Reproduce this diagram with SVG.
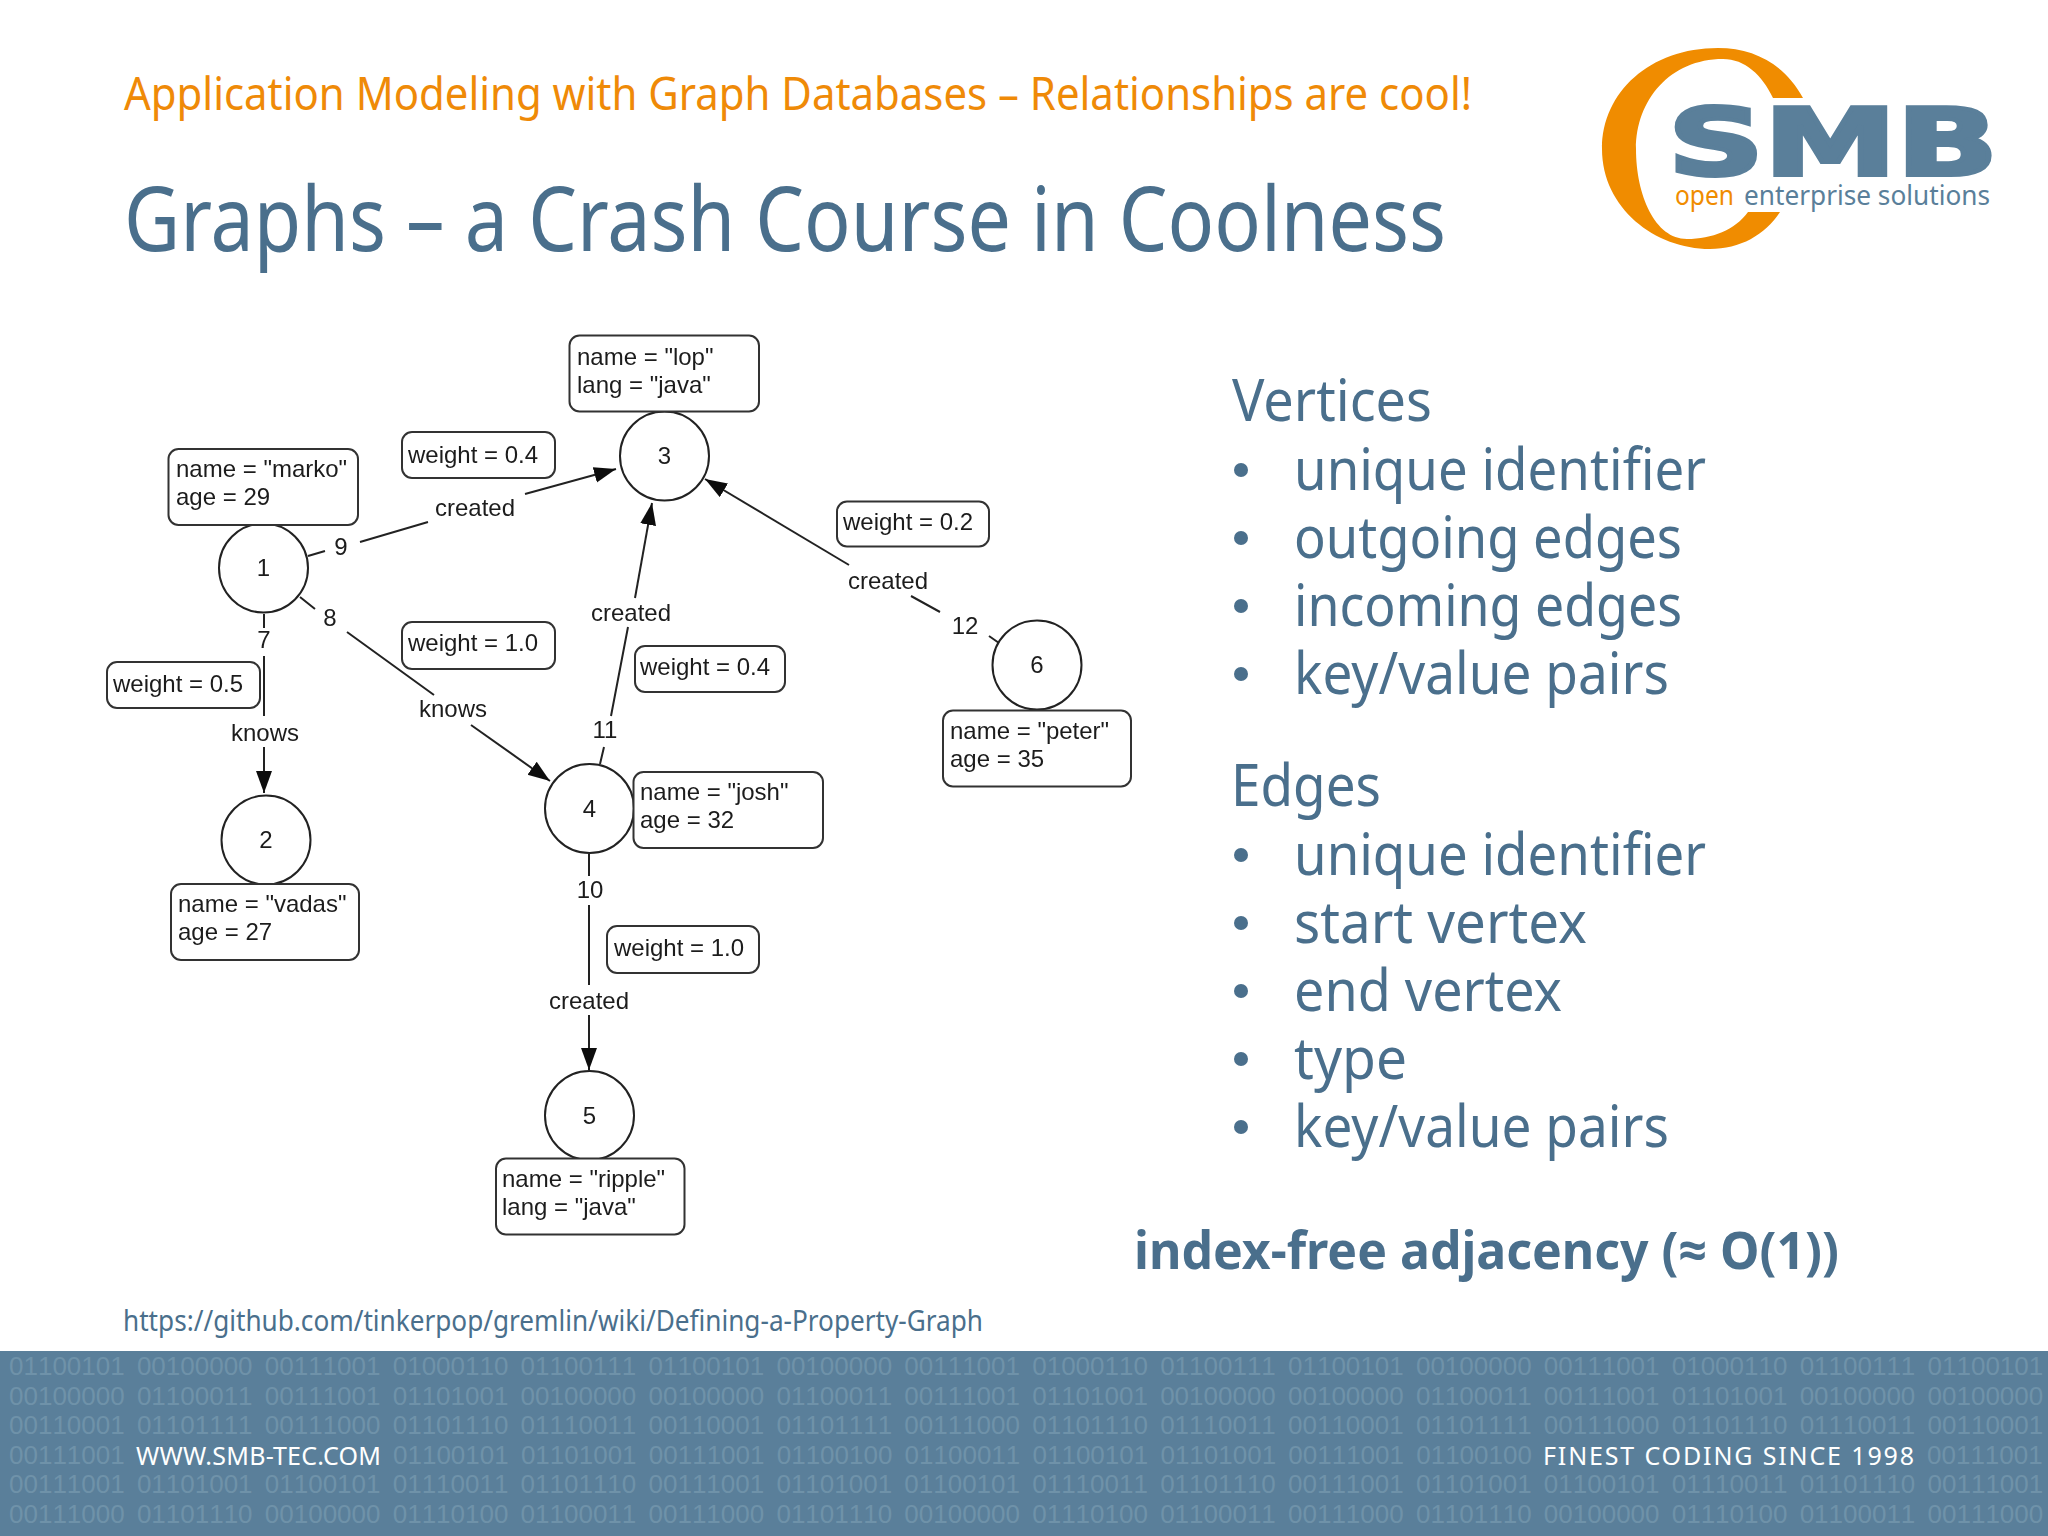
<svg xmlns="http://www.w3.org/2000/svg" width="2048" height="1536" viewBox="0 0 2048 1536">
<style>
.g{font-family:"Liberation Sans",Arial,sans-serif;font-size:24px;fill:#1c1c1c}
.m{text-anchor:middle}
.box{fill:#fff;stroke:#333;stroke-width:2}
.c{fill:#fff;stroke:#222;stroke-width:2}
.e{stroke:#222;stroke-width:2;fill:none}
.h{font-family:"Noto Sans","Open Sans",sans-serif;fill:#4a6f8c}
.li{font-size:58px}
.bu{font-family:"Liberation Sans",sans-serif;font-size:26px;word-spacing:5px;font-kerning:none;fill:#6f92a9}
.ft{font-family:"Noto Sans",sans-serif;font-size:25px;fill:#fff}
</style>
<defs>
<marker id="a" markerUnits="userSpaceOnUse" markerWidth="24" markerHeight="18" refX="22" refY="8" orient="auto"><path d="M0,0L22,8L0,16Z" fill="#111"/></marker>
<filter id="soft" x="0" y="0" width="1" height="1"><feGaussianBlur stdDeviation="0.6"/></filter>
</defs>
<rect width="2048" height="1536" fill="#fff"/>
<g id="header">
<text class="h" x="124" y="110" font-size="46" textLength="1348" lengthAdjust="spacingAndGlyphs" style="fill:#ef8a07">Application Modeling with Graph Databases – Relationships are cool!</text>
<text class="h" x="124" y="251" font-size="90" textLength="1322" lengthAdjust="spacingAndGlyphs">Graphs – a Crash Course in Coolness</text>
</g>
<g id="logo">
<path d="M1803,98C1785,65 1755,48 1718,48C1650,48 1602,92 1602,149C1602,208 1655,249 1710,249C1740,249 1765,235 1780,212L1748,212C1735,230 1712,239 1687,239C1655,239 1636,195 1636,149C1636,100 1670,59 1723,59C1745,59 1762,75 1773,98Z" fill="#f08c00"/>
<text x="1668" y="175" font-family="DejaVu Sans" font-weight="bold" font-size="92" textLength="330" lengthAdjust="spacingAndGlyphs" fill="#5a7f9a" stroke="#5a7f9a" stroke-width="4">SMB</text>
<text x="1675" y="205" font-family="Noto Sans" font-size="28" textLength="59" lengthAdjust="spacingAndGlyphs" fill="#f08c00">open</text>
<text x="1744" y="205" font-family="Noto Sans" font-size="28" textLength="246" lengthAdjust="spacingAndGlyphs" fill="#5a7f9a">enterprise solutions</text>
</g>
<g id="graph" filter="url(#soft)">
<rect x="100" y="320" width="1060" height="950" fill="#fff"/>
<g id="connectors">
<path class="e" d="M308,556L325,551M360,542L428,522"/><path class="e" d="M525,494L616,469" marker-end="url(#a)"/>
<path class="e" d="M300,597L315,609M347,632L434,695"/><path class="e" d="M471,725L550,781" marker-end="url(#a)"/>
<path class="e" d="M264,614L264,628M264,656L264,716"/><path class="e" d="M264,747L264,793" marker-end="url(#a)"/>
<path class="e" d="M600,764L604,747M611,716L628,627"/><path class="e" d="M635,598L652,503" marker-end="url(#a)"/>
<path class="e" d="M589,854L589,876M589,905L589,985"/><path class="e" d="M589,1015L589,1070" marker-end="url(#a)"/>
<path class="e" d="M999,643L989,636M940,612L911,596"/><path class="e" d="M849,565L705,479" marker-end="url(#a)"/>
<text class="g m" x="475" y="516">created</text><text class="g m" x="341" y="555">9</text>
<text class="g m" x="330" y="626">8</text><text class="g m" x="264" y="648">7</text>
<text class="g m" x="265" y="741">knows</text><text class="g m" x="453" y="717">knows</text>
<text class="g m" x="631" y="621">created</text><text class="g m" x="605" y="738">11</text>
<text class="g m" x="888" y="589">created</text><text class="g m" x="965" y="634">12</text>
<text class="g m" x="590" y="898">10</text><text class="g m" x="589" y="1009">created</text>
</g>
<g id="node1"><circle class="c" cx="263.500" cy="568" r="44.500"/><text class="g m" x="263.500" y="576">1</text><rect class="box" x="168.500" y="449" width="189.500" height="76" rx="10"/><text class="g" x="176" y="477">name = "marko"</text><text class="g" x="176" y="505">age = 29</text></g>
<g id="node2"><circle class="c" cx="266" cy="840" r="44.500"/><text class="g m" x="266" y="848">2</text><rect class="box" x="171" y="884" width="188" height="76" rx="10"/><text class="g" x="178" y="912">name = "vadas"</text><text class="g" x="178" y="940">age = 27</text></g>
<g id="node3"><circle class="c" cx="664.500" cy="456" r="44.500"/><text class="g m" x="664.500" y="464">3</text><rect class="box" x="569.500" y="335.500" width="189.500" height="76" rx="10"/><text class="g" x="577" y="365">name = "lop"</text><text class="g" x="577" y="393">lang = "java"</text></g>
<g id="node4"><circle class="c" cx="589.500" cy="808.500" r="44.500"/><text class="g m" x="589.500" y="816.500">4</text><rect class="box" x="633.500" y="772" width="189.500" height="76" rx="10"/><text class="g" x="640" y="800">name = "josh"</text><text class="g" x="640" y="828">age = 32</text></g>
<g id="node5"><circle class="c" cx="589.500" cy="1115.500" r="44.500"/><text class="g m" x="589.500" y="1123.500">5</text><rect class="box" x="496" y="1158.500" width="188.500" height="76" rx="10"/><text class="g" x="502" y="1187">name = "ripple"</text><text class="g" x="502" y="1215">lang = "java"</text></g>
<g id="node6"><circle class="c" cx="1037" cy="665" r="44.500"/><text class="g m" x="1037" y="673">6</text><rect class="box" x="943" y="710.500" width="188" height="76" rx="10"/><text class="g" x="950" y="739">name = "peter"</text><text class="g" x="950" y="767">age = 35</text></g>
<g id="w9"><rect class="box" x="402" y="432" width="153" height="46" rx="10"/><text class="g" x="408" y="463">weight = 0.4</text></g>
<g id="w12"><rect class="box" x="837" y="501.500" width="152" height="45" rx="10"/><text class="g" x="843" y="530">weight = 0.2</text></g>
<g id="w8"><rect class="box" x="402" y="622" width="153" height="47" rx="10"/><text class="g" x="408" y="651">weight = 1.0</text></g>
<g id="w7"><rect class="box" x="107" y="662" width="153" height="46" rx="10"/><text class="g" x="113" y="692">weight = 0.5</text></g>
<g id="w11"><rect class="box" x="635" y="646" width="150" height="46" rx="10"/><text class="g" x="640" y="675">weight = 0.4</text></g>
<g id="w10"><rect class="box" x="607" y="926" width="152" height="47" rx="10"/><text class="g" x="614" y="956">weight = 1.0</text></g>
</g>
<g id="lists">
<text class="h li" x="1232" y="421" textLength="200" lengthAdjust="spacingAndGlyphs">Vertices</text>
<text class="h li" x="1294" y="490" textLength="412" lengthAdjust="spacingAndGlyphs">unique identifier</text>
<text class="h li" x="1294" y="558" textLength="388" lengthAdjust="spacingAndGlyphs">outgoing edges</text>
<text class="h li" x="1294" y="626" textLength="388" lengthAdjust="spacingAndGlyphs">incoming edges</text>
<text class="h li" x="1294" y="694" textLength="375" lengthAdjust="spacingAndGlyphs">key/value pairs</text>
<text class="h li" x="1231" y="806" textLength="150" lengthAdjust="spacingAndGlyphs">Edges</text>
<text class="h li" x="1294" y="875" textLength="412" lengthAdjust="spacingAndGlyphs">unique identifier</text>
<text class="h li" x="1294" y="943" textLength="293" lengthAdjust="spacingAndGlyphs">start vertex</text>
<text class="h li" x="1294" y="1011" textLength="268" lengthAdjust="spacingAndGlyphs">end vertex</text>
<text class="h li" x="1294" y="1079" textLength="113" lengthAdjust="spacingAndGlyphs">type</text>
<text class="h li" x="1294" y="1147" textLength="375" lengthAdjust="spacingAndGlyphs">key/value pairs</text>
<g fill="#4a6f8c"><circle cx="1241" cy="470" r="7"/><circle cx="1241" cy="538" r="7"/><circle cx="1241" cy="606" r="7"/><circle cx="1241" cy="674" r="7"/><circle cx="1241" cy="855" r="7"/><circle cx="1241" cy="923" r="7"/><circle cx="1241" cy="991" r="7"/><circle cx="1241" cy="1059" r="7"/><circle cx="1241" cy="1127" r="7"/></g>
<text class="h" x="1134" y="1269" font-size="52" font-weight="bold" textLength="705" lengthAdjust="spacingAndGlyphs">index-free adjacency (≈ O(1))</text>
<text class="h" x="123" y="1331" font-size="29" textLength="860" lengthAdjust="spacingAndGlyphs">https://github.com/tinkerpop/gremlin/wiki/Defining-a-Property-Graph</text>
</g>
<g id="footer">
<rect y="1351" width="2048" height="185" fill="#5a7f9a"/>
<text class="bu" x="9" y="1375">01100101 00100000 00111001 01000110 01100111 01100101 00100000 00111001 01000110 01100111 01100101 00100000 00111001 01000110 01100111 01100101</text>
<text class="bu" x="9" y="1404.500">00100000 01100011 00111001 01101001 00100000 00100000 01100011 00111001 01101001 00100000 00100000 01100011 00111001 01101001 00100000 00100000</text>
<text class="bu" x="9" y="1434">00110001 01101111 00111000 01101110 01110011 00110001 01101111 00111000 01101110 01110011 00110001 01101111 00111000 01101110 01110011 00110001</text>
<text class="bu" x="9" y="1464">00111001</text>
<text class="bu" x="393" y="1464">01100101 01101001 00111001 01100100 01100011 01100101 01101001 00111001 01100100</text>
<text class="bu" x="1927" y="1464">00111001</text>
<text class="bu" x="9" y="1493">00111001 01101001 01100101 01110011 01101110 00111001 01101001 01100101 01110011 01101110 00111001 01101001 01100101 01110011 01101110 00111001</text>
<text class="bu" x="9" y="1523">00111000 01101110 00100000 01110100 01100011 00111000 01101110 00100000 01110100 01100011 00111000 01101110 00100000 01110100 01100011 00111000</text>
<text class="ft" x="136" y="1465" textLength="245">WWW.SMB-TEC.COM</text>
<text class="ft" x="1543" y="1465" textLength="371">FINEST CODING SINCE 1998</text>
</g>
</svg>
